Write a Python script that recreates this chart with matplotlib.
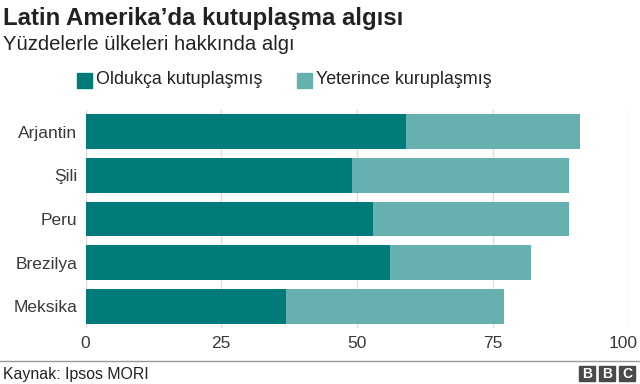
import matplotlib.pyplot as plt
import matplotlib.transforms as mtransforms
from matplotlib.patches import Rectangle

plt.rcParams['font.family'] = ['Liberation Sans', 'DejaVu Sans']

# Veriler
ulkeler = ['Arjantin', 'Şili', 'Peru', 'Brezilya', 'Meksika']
oldukca = [59, 49, 53, 56, 37]
yeterince = [32, 40, 36, 26, 40]
seri_adlari = ['Oldukça kutuplaşmış', 'Yeterince kuruplaşmış']
xticks = [0, 25, 50, 75, 100]

koyu = '#007b7a'
acik = '#66b1af'

fig = plt.figure(figsize=(6.4, 3.84), dpi=100)
ax = fig.add_axes([85.5 / 640, 1 - 328 / 384, 543 / 640, 218 / 384])

y = list(range(len(ulkeler)))
ax.barh(y, oldukca, height=0.8, color=koyu, zorder=2)
ax.barh(y, yeterince, left=oldukca, height=0.8, color=acik, zorder=2)

ax.set_xlim(0, 100)
ax.set_ylim(len(ulkeler) - 0.5, -0.5)
ax.set_yticks(y)
ax.set_yticklabels(ulkeler)
ax.set_xticks(xticks)
ax.set_xticklabels([str(t) for t in xticks])
ax.tick_params(axis='both', length=0, labelsize=12.5, colors='#3a3a3a')
ax.tick_params(axis='y', pad=6)
ax.tick_params(axis='x', pad=6)
ax.grid(axis='x', color='#dddddd', lw=1, zorder=0)
for s in ax.spines.values():
    s.set_visible(False)

# son etiket (100) kenarda kesilmesin
son = ax.get_xticklabels()[-1]
son.set_ha('right')
son.set_transform(son.get_transform() +
                  mtransforms.ScaledTranslation(9 / 100, 0, fig.dpi_scale_trans))

# Başlıklar
fig.text(3 / 640, 1 - 19 / 384, 'Latin Amerika’da kutuplaşma algısı',
         fontsize=17.3, fontweight='bold', color='#222222', va='center')
fig.text(3 / 640, 1 - 45 / 384, 'Yüzdelerle ülkeleri hakkında algı',
         fontsize=14.6, color='#222222', va='center')

# Lejant
for x0, renk, ad in [(77, koyu, seri_adlari[0]), (297, acik, seri_adlari[1])]:
    fig.patches.append(Rectangle((x0 / 640, 1 - 88 / 384), 15 / 640, 15 / 384,
                                 transform=fig.transFigure, color=renk))
    fig.text((x0 + 19) / 640, 1 - 80 / 384, ad, fontsize=12.9,
             color='#222222', va='center')

# Alt bilgi
fig.add_artist(plt.Line2D([0, 1], [1 - 361 / 384] * 2, color='#999999', lw=1))
fig.text(3 / 640, 1 - 374 / 384, 'Kaynak: Ipsos MORI', fontsize=11.4,
         color='#222222', va='center')
for i, harf in enumerate('BBC'):
    x0 = 579 + i * 20
    fig.patches.append(Rectangle((x0 / 640, 1 - 381 / 384), 16 / 640, 15 / 384,
                                 transform=fig.transFigure, color='#4a4a4a'))
    fig.text((x0 + 8) / 640, 1 - 373.5 / 384, harf, fontsize=10,
             fontweight='bold', color='white', ha='center', va='center')

fig.savefig('out.png', dpi=100)
